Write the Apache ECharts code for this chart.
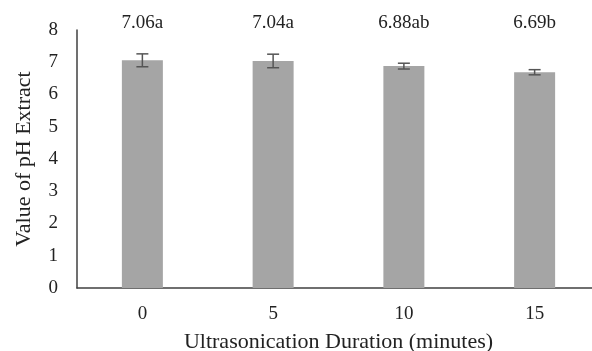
<!DOCTYPE html>
<html>
<head>
<meta charset="utf-8">
<script src="https://cdn.jsdelivr.net/npm/echarts@6/dist/echarts.min.js"></script>
<style>
  html, body { margin: 0; padding: 0; background: #fff; }
  #chart { width: 592px; height: 351px; }
</style>
</head>
<body>
<div id="chart"></div>
<script>
  // ultrasonication duration (minutes)
  var categories = ['0', '5', '10', '15'];
  // mean pH values
  var phValues = [7.06, 7.04, 6.88, 6.69];
  // error bar half-widths
  var phErrors = [0.2, 0.21, 0.09, 0.08];
  // significance letters
  var letters = ['a', 'a', 'ab', 'b'];
  var yTicks = [0, 1, 2, 3, 4, 5, 6, 7, 8];

  var font = '"Liberation Serif", "Times New Roman", serif';
  var myChart = echarts.init(document.getElementById('chart'));

  var option = {
    backgroundColor: '#fff',
    animation: false,
    grid: {
      left: 77,
      top: 30,
      width: 523,
      bottom: 63,
      outerBoundsMode: 'none'
    },
    xAxis: {
      type: 'category',
      data: categories,
      name: 'Ultrasonication Duration (minutes)',
      nameLocation: 'middle',
      nameGap: 43,
      nameTextStyle: { fontFamily: font, fontSize: 22, color: '#222' },
      axisTick: { show: false },
      axisLine: { lineStyle: { color: '#404040', width: 1.5 } },
      axisLabel: { fontFamily: font, fontSize: 19, color: '#222', margin: 17 }
    },
    yAxis: {
      type: 'value',
      min: yTicks[0],
      max: yTicks[yTicks.length - 1],
      interval: 1,
      name: 'Value of pH Extract',
      nameLocation: 'middle',
      nameGap: 42,
      nameTextStyle: { fontFamily: font, fontSize: 22, color: '#222' },
      axisTick: { show: false },
      splitLine: { show: false },
      axisLine: { show: true, lineStyle: { color: '#404040', width: 1.5 } },
      axisLabel: { fontFamily: font, fontSize: 19, color: '#222', margin: 19 }
    },
    series: [
      {
        type: 'bar',
        data: phValues,
        barWidth: 41,
        itemStyle: { color: '#a5a5a5' }
      },
      {
        type: 'custom',
        clip: false,
        z: 5,
        data: phValues.map(function (v, i) { return [i, v, phErrors[i]]; }),
        renderItem: function (params, api) {
          var i = api.value(0);
          var v = api.value(1);
          var e = api.value(2);
          var top = api.coord([i, v + e]);
          var bot = api.coord([i, v - e]);
          var labelPos = api.coord([i, yTicks[yTicks.length - 1]]);
          var w = 6;
          var lineStyle = { stroke: '#555555', lineWidth: 1.5 };
          return {
            type: 'group',
            children: [
              { type: 'line', shape: { x1: top[0], y1: top[1], x2: bot[0], y2: bot[1] }, style: lineStyle },
              { type: 'line', shape: { x1: top[0] - w, y1: top[1], x2: top[0] + w, y2: top[1] }, style: lineStyle },
              { type: 'line', shape: { x1: bot[0] - w, y1: bot[1], x2: bot[0] + w, y2: bot[1] }, style: lineStyle },
              {
                type: 'text',
                x: labelPos[0],
                y: labelPos[1] - 7,
                style: {
                  text: phValues[params.dataIndex].toFixed(2) + letters[params.dataIndex],
                  font: '19px ' + font,
                  fill: '#222',
                  textAlign: 'center',
                  textVerticalAlign: 'middle'
                }
              }
            ]
          };
        }
      }
    ]
  };

  myChart.setOption(option);
</script>
</body>
</html>
